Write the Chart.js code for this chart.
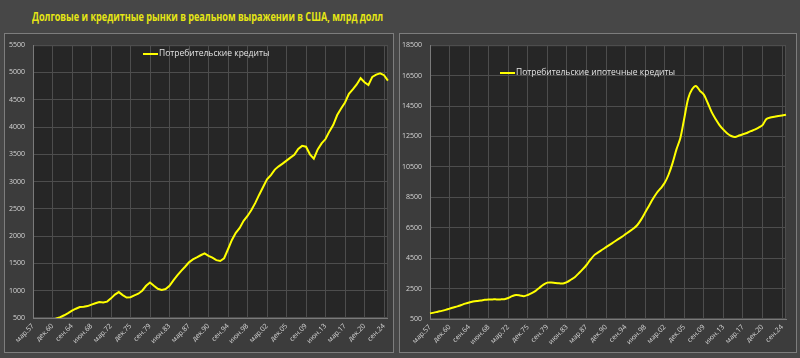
<!DOCTYPE html>
<html>
<head>
<meta charset="utf-8">
<script src="https://cdn.jsdelivr.net/npm/chart.js@4.4.1/dist/chart.umd.min.js"></script>
<style>
    body { margin: 0; width: 800px; height: 358px; overflow: hidden; position: relative; background: #474747; font-family: "Open Sans", sans-serif; }
    .panel { position: absolute; top: 33px; height: 320px; background: #3c3c3c; border: 1px solid #7d7d7d; box-sizing: border-box; }
    #p1 { left: 4px; width: 390px; }
    #p2 { left: 399px; width: 398px; }
    canvas { position: absolute; top: 33px; }
    #c1 { left: 4px; }
    #c2 { left: 399px; }
    #title { position: absolute; left: 32px; top: 8px; color: #e6e614; font-weight: bold; font-size: 12px; white-space: nowrap; transform-origin: 0 0; }
    .leg { position: absolute; color: #e2e2e2; font-size: 8.5px; line-height: 12px; white-space: nowrap; }
    .leg i { display: inline-block; width: 15px; height: 2px; background: #ffff00; vertical-align: middle; margin-right: 1px; }
</style>
</head>
<body>
<div class="panel" id="p1"></div>
<div class="panel" id="p2"></div>
<div id="title">Долговые и кредитные рынки в реальном выражении в США, млрд долл</div>
<canvas id="c1" width="390" height="320"></canvas>
<canvas id="c2" width="398" height="320"></canvas>
<div class="leg" style="left:143px;top:47px"><i></i>Потребительские кредиты</div>
<div class="leg" style="left:500px;top:66px"><i></i>Потребительские ипотечные кредиты</div>
<script>
// categories: every 9 months from март 1957, a tick label every 5th point (45 months)
const monthNames = ["янв", "фев", "мар", "апр", "май", "июн", "июл", "авг", "сен", "окт", "ноя", "дек"];
const labels = [];
for (let i = 0; i < 92; i++) {
    const m = 2 + i * 9;
    const y = 1957 + Math.floor(m / 12);
    labels.push(monthNames[m % 12] + "." + String(y % 100).padStart(2, "0"));
}

// Потребительские кредиты, млрд долл (реальные)
const consumerCredit = [
    380, 400, 415, 430, 450, 470, 490, 515, 550, 590,
    635, 670, 700, 705, 718, 745, 770, 792, 785, 800,
    860, 930, 975, 920, 875, 880, 915, 945, 1000, 1090,
    1150, 1090, 1035, 1015, 1030, 1090, 1190, 1280, 1365, 1440,
    1520, 1575, 1610, 1650, 1685, 1640, 1605, 1560, 1545, 1595,
    1760, 1930, 2060, 2150, 2280, 2370, 2480, 2610, 2760, 2900,
    3040, 3120, 3220, 3280, 3330, 3385, 3440, 3490, 3600, 3655,
    3640, 3500, 3420, 3590, 3700, 3780, 3920, 4040, 4220, 4340,
    4450, 4610, 4690, 4780, 4895, 4820, 4770, 4920, 4960, 4985,
    4950, 4850
];

// Потребительские ипотечные кредиты, млрд долл (реальные)
const mortgageCredit = [
    870, 920, 980, 1034, 1100, 1180, 1260, 1330, 1420, 1510,
    1590, 1650, 1690, 1720, 1760, 1780, 1790, 1790, 1790, 1800,
    1880, 2000, 2080, 2050, 2000, 2080, 2200, 2350, 2560, 2760,
    2890, 2900, 2870, 2850, 2830, 2920, 3080, 3250, 3500, 3760,
    4050, 4400, 4700, 4880, 5050, 5220, 5390, 5560, 5730, 5900,
    6080, 6260, 6450, 6680, 7050, 7500, 7950, 8400, 8800, 9100,
    9450, 10000, 10750, 11650, 12400, 13700, 15000, 15600, 15820, 15500,
    15250, 14700, 14100, 13650, 13250, 12950, 12700, 12530, 12460, 12560,
    12650, 12730, 12850, 12950, 13080, 13250, 13650, 13750, 13800, 13850,
    13880, 13930
];

const leftTicks = { min: 500, max: 5500, step: 500 };
const rightTicks = { min: 500, max: 18500, step: 2000 };

const gridColor = "#4d4d4d";
const tickColor = "#d6d6d6";

const plotBg = {
    id: "plotBg",
    beforeDraw(chart) {
        const a = chart.chartArea;
        const c = chart.ctx;
        c.save();
        c.fillStyle = "#262626";
        c.fillRect(a.left, a.top, a.right - a.left, a.bottom - a.top);
        c.strokeStyle = gridColor;
        c.lineWidth = 1;
        c.strokeRect(a.left + 0.5, a.top + 0.5, a.right - a.left - 1, a.bottom - a.top - 1);
        c.restore();
    }
};

function makeChart(id, data, t, pad, yWidth, xHeight, tension) {
    return new Chart(document.getElementById(id), {
        type: "line",
        data: {
            labels: labels,
            datasets: [{
                data: data,
                borderColor: "#ffff00",
                borderWidth: 2,
                pointRadius: 0,
                tension: tension
            }]
        },
        options: {
            responsive: false,
            animation: false,
            layout: { padding: pad },
            plugins: { legend: { display: false }, tooltip: { enabled: false } },
            scales: {
                x: {
                    grid: { color: gridColor, drawTicks: false },
                    border: { color: "#7a7a7a" },
                    ticks: {
                        autoSkip: false,
                        minRotation: 45,
                        maxRotation: 45,
                        padding: 4,
                        color: tickColor,
                        font: { family: "Open Sans", size: 7 },
                        callback: (v, i) => (i % 5 === 0 ? labels[i] : null)
                    },
                    afterFit: s => { s.height = xHeight; }
                },
                y: {
                    min: t.min,
                    max: t.max,
                    grid: { color: gridColor, drawTicks: false },
                    border: { color: "#7a7a7a" },
                    ticks: {
                        stepSize: t.step,
                        padding: 8,
                        color: tickColor,
                        font: { family: "Open Sans", size: 7 },
                        callback: v => String(v)
                    },
                    afterFit: s => { s.width = yWidth; }
                }
            }
        },
        plugins: [plotBg]
    });
}

makeChart("c1", consumerCredit, leftTicks, { left: 0, top: 5, right: 4, bottom: 0 }, 29, 35, 0);
makeChart("c2", mortgageCredit, rightTicks, { left: 0, top: 6, right: 11, bottom: 0 }, 31, 34, 0.3);

// squeeze the title to the width it has in the picture
const title = document.getElementById("title");
title.style.transform = "scaleX(" + (351 / title.offsetWidth) + ")";
</script>
</body>
</html>
